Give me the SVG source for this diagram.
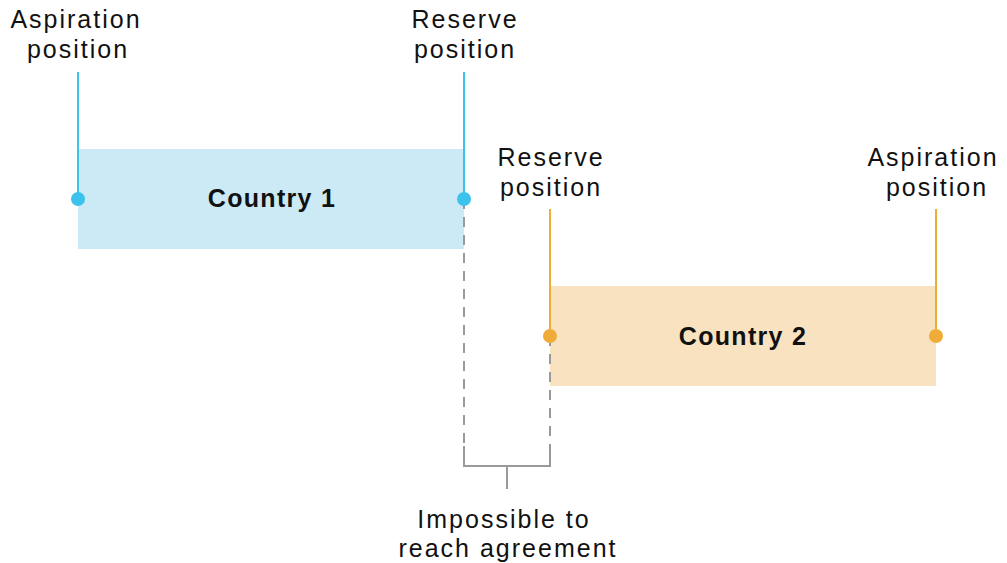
<svg xmlns="http://www.w3.org/2000/svg" width="1007" height="563" viewBox="0 0 1007 563">
<style>
text{font-family:"Liberation Sans",Arial,sans-serif;font-size:25px;letter-spacing:2px;fill:#111;text-anchor:middle}
.b{font-weight:bold;letter-spacing:1.3px}
.c1{stroke:#3cc3ec;stroke-width:2}
.c2{stroke:#f0ac38;stroke-width:2}
.g{stroke:#9a9a9a;stroke-width:2;fill:none}
</style>
<rect width="1007" height="563" fill="#fff"/>
<g id="country1">
<rect x="78" y="149" width="386" height="100" fill="#cbeaf6"/>
<text class="b" x="272" y="207">Country 1</text>
</g>
<g id="country2">
<rect x="550" y="286" width="386" height="100" fill="#f9e2bf"/>
<text class="b" x="743" y="345">Country 2</text>
</g>
<g id="connectors">
<path class="g" d="M464 199V446M550 336V446" stroke-dasharray="10 8"/>
<path class="g" d="M464 446V466H550V446M507 466V489"/>
<line class="c1" x1="78" y1="72" x2="78" y2="199"/>
<line class="c1" x1="464" y1="72" x2="464" y2="199"/>
<circle cx="78" cy="199" r="7" fill="#3cc3ec"/>
<circle cx="464" cy="199" r="7" fill="#3cc3ec"/>
<line class="c2" x1="550" y1="209" x2="550" y2="336"/>
<line class="c2" x1="936" y1="209" x2="936" y2="336"/>
<circle cx="550" cy="336" r="7" fill="#f0ac38"/>
<circle cx="936" cy="336" r="7" fill="#f0ac38"/>
</g>
<g id="label-aspiration1"><text x="76" y="28">Aspiration</text><text x="78" y="58">position</text></g>
<g id="label-reserve1"><text x="465" y="28">Reserve</text><text x="465" y="58">position</text></g>
<g id="label-reserve2"><text x="551" y="166">Reserve</text><text x="551" y="196">position</text></g>
<g id="label-aspiration2"><text x="933" y="166">Aspiration</text><text x="937" y="196">position</text></g>
<g id="label-impossible"><text x="504" y="528">Impossible to</text><text x="508" y="557">reach agreement</text></g>
</svg>
